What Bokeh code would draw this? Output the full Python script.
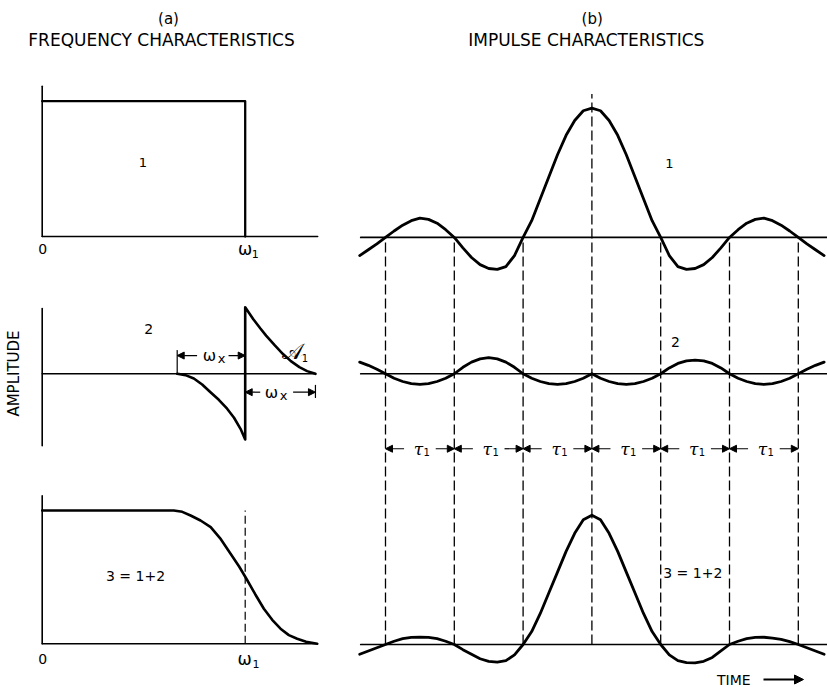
import numpy as np
from bokeh.plotting import figure
from bokeh.models import Range1d, Arrow, NormalHead
from bokeh.core.properties import value
from bokeh.embed import file_html
from bokeh.resources import INLINE

# ---------------- data ----------------
# (a) frequency characteristics: frequency in units of omega_1, amplitude relative to curve 1
a1_w = [0.0, 1.0, 1.0]
a1_amp = [1.0, 1.0, 0.0]

a2_w = [0.665, 0.706, 0.747, 0.788, 0.829, 0.870, 0.911, 0.945, 0.977, 1.0,
        1.0, 1.04, 1.075, 1.103, 1.145, 1.185, 1.225, 1.267, 1.305, 1.346]
a2_amp = [0.0, -0.01, -0.035, -0.08, -0.138, -0.195, -0.262, -0.33, -0.413, -0.493,
          0.5, 0.41, 0.34, 0.287, 0.215, 0.15, 0.095, 0.05, 0.02, 0.0]

a3_w = [0.0, 0.648, 0.69, 0.731, 0.78, 0.83, 0.88, 0.928, 0.97, 1.006,
        1.05, 1.092, 1.133, 1.174, 1.215, 1.256, 1.30, 1.355]
a3_amp = [1.0, 1.0, 0.99, 0.9625, 0.925, 0.875, 0.785, 0.675, 0.58, 0.488,
          0.37, 0.263, 0.18, 0.113, 0.065, 0.0375, 0.015, 0.0]

freq_axis_end = [1.357, 1.346, 1.355]
amp_axis_a1 = [0.0, 1.11]
amp_axis_a2 = [-0.54, 0.49]
amp_axis_a3 = [0.0, 1.11]
wx_start = 0.665   # 1 - omega_x
wx_end = 1.346     # 1 + omega_x

# (b) impulse characteristics: time in units of tau_1, amplitude relative to peak of curve 1
t_b = [k / 8 for k in range(-27, 28)]
b1 = [-0.14, -0.095, -0.05, 0.0, 0.05, 0.095, 0.13, 0.15, 0.14, 0.11, 0.06, 0.0,
      -0.08, -0.155, -0.21, -0.24, -0.247, -0.225, -0.14, 0.0,
      0.13, 0.30, 0.47, 0.64, 0.79, 0.905, 0.98, 1.0, 0.98, 0.905, 0.79, 0.64, 0.47, 0.30, 0.13,
      0.0, -0.14, -0.225, -0.247, -0.24, -0.21, -0.155, -0.08,
      0.0, 0.06, 0.11, 0.14, 0.15, 0.13, 0.095, 0.05, 0.0, -0.05, -0.095, -0.14]
b2 = [0.09, 0.065, 0.035, 0.0, -0.035, -0.06, -0.077, -0.083, -0.077, -0.06, -0.035, 0.0,
      0.05, 0.09, 0.115, 0.124, 0.115, 0.09, 0.05, 0.0,
      -0.035, -0.06, -0.077, -0.083, -0.077, -0.06, -0.035, 0.0,
      -0.035, -0.06, -0.077, -0.083, -0.077, -0.06, -0.035, 0.0,
      0.045, 0.08, 0.1, 0.105, 0.1, 0.08, 0.045, 0.0,
      -0.035, -0.06, -0.077, -0.083, -0.077, -0.06, -0.035, 0.0, 0.035, 0.065, 0.09]
b3 = [-0.075, -0.05, -0.025, 0.0, 0.025, 0.045, 0.055, 0.057, 0.055, 0.045, 0.025, 0.0,
      -0.04, -0.075, -0.11, -0.13, -0.137, -0.125, -0.08, 0.0,
      0.10, 0.24, 0.40, 0.56, 0.72, 0.86, 0.965, 1.0, 0.965, 0.86, 0.72, 0.56, 0.40, 0.24, 0.10,
      0.0, -0.08, -0.125, -0.14, -0.142, -0.13, -0.1, -0.05,
      0.0, 0.025, 0.045, 0.055, 0.056, 0.05, 0.04, 0.022, 0.0, -0.025, -0.05, -0.075]
tau_marks = [-3, -2, -1, 0, 1, 2, 3]
time_span = [-3.36, 3.5]

# ---------------- layout ----------------
W, H = 827, 687
LEFT, RIGHT, TOP, BOT = 0, W, 0, H


def xmap(pa, va, pb, vb):
    s = (pb - pa) / (vb - va)
    return Range1d(va + (LEFT - pa) / s, va + (RIGHT - pa) / s)


def ymap(pa, va, pb, vb):
    s = (pb - pa) / (vb - va)
    return Range1d(va + (BOT - pa) / s, va + (TOP - pa) / s)


p = figure(width=W, height=H, x_range=Range1d(LEFT, RIGHT), y_range=Range1d(-BOT, -TOP),
           output_backend="svg", toolbar_location=None, min_border=0,
           x_axis_location=None, y_axis_location=None)
p.outline_line_color = None
p.background_fill_color = "white"
p.border_fill_color = "white"
p.xgrid.visible = False
p.ygrid.visible = False

p.extra_x_ranges = {"w": xmap(41.7, 0, 244.7, 1), "t": xmap(591.4, 0, 660.2, 1)}
p.extra_y_ranges = {"a1": ymap(236, 0, 100.7, 1), "a2": ymap(373.3, 0, 306.7, 0.5),
                    "a3": ymap(643.3, 0, 510, 1), "b": ymap(644, 0, 514.7, 1)}
OFF = [3.148, 2.094, 0.0]   # vertical placement of the three impulse traces
Y_TAU = 1.514


def line(xs, ys, xr, yr, w=2.0, dash="solid", cap="round"):
    p.line(xs, ys, x_range_name=xr, y_range_name=yr, line_color="black",
           line_width=w, line_dash=dash, line_join="round", line_cap=cap)


def txt(x, y, s, size, xr="default", yr="default", font="DejaVu Sans", style="normal",
        align="center", angle=0.0):
    p.text(x=[x], y=[y], text=[s], x_range_name=xr, y_range_name=yr,
           text_font=value(font), text_font_size=value(f"{size}px"),
           text_font_style=style, text_align=align, text_baseline="middle",
           text_color="black", angle=angle)


def arrow(x0, y0, x1, y1, xr="default", yr="default", size=7, w=1.2):
    p.add_layout(Arrow(end=NormalHead(size=size, fill_color="black", line_color="black", line_width=1),
                       x_start=x0, y_start=y0, x_end=x1, y_end=y1,
                       x_range_name=xr, y_range_name=yr, line_width=w, line_color="black"))


# ---- (a) panel 1
line([0, 0], amp_axis_a1, "w", "a1", 1.6)
line([0, freq_axis_end[0]], [0, 0], "w", "a1", 1.6)
line(a1_w, a1_amp, "w", "a1", 2.3)

# ---- (a) panel 2
line([0, 0], amp_axis_a2, "w", "a2", 1.6)
line([0, freq_axis_end[1]], [0, 0], "w", "a2", 1.6)
line(a2_w, a2_amp, "w", "a2", 2.6)
line([wx_start, wx_start], [0, 0.175], "w", "a2", 1.2)
line([wx_end, wx_end], [-0.0875, -0.177], "w", "a2", 1.2)
arrow(wx_start + 0.098, 0.137, wx_start, 0.137, "w", "a2")
arrow(1.0 - 0.082, 0.137, 1.0, 0.137, "w", "a2")
arrow(1.0 + 0.074, -0.138, 1.0, -0.138, "w", "a2")
arrow(wx_end - 0.11, -0.138, wx_end, -0.138, "w", "a2")

# ---- (a) panel 3
line([0, 0], amp_axis_a3, "w", "a3", 1.6)
line([0, freq_axis_end[2]], [0, 0], "w", "a3", 1.6)
line([1.0, 1.0], [0, 1.0], "w", "a3", 1.2, dash="8 4", cap="butt")
line(a3_w, a3_amp, "w", "a3", 2.6)

# ---- (b)
for t in tau_marks:
    top = OFF[0] + (1.11 if t == 0 else 0.0)
    line([t, t], [0, top], "t", "b", 1.3, dash="10 4", cap="butt")
for tr, off in zip([b1, b2, b3], OFF):
    line(time_span, [off, off], "t", "b", 1.7)
    line(t_b, (np.array(tr) + off).tolist(), "t", "b", 2.8)
for a, b in zip(tau_marks[:-1], tau_marks[1:]):
    mid = (a + b) / 2
    arrow(a + 0.27, Y_TAU, a, Y_TAU, "t", "b")
    arrow(b - 0.27, Y_TAU, b, Y_TAU, "t", "b")
    txt(mid - 0.02, Y_TAU, "τ", 17, "t", "b", font="DejaVu Serif", style="italic")
    txt(mid + 0.1, Y_TAU - 0.025, "1", 10, "t", "b")

# ---- texts (image coordinates)
txt(168, -18, "(a)", 15)
txt(161, -39, "FREQUENCY CHARACTERISTICS", 17)
txt(591.7, -18, "(b)", 15)
txt(585.8, -39, "IMPULSE CHARACTERISTICS", 17)

txt(42.3, -248.5, "0", 14)
txt(244.7, -248.5, "ω", 17)
txt(254.7, -253, "1", 11)
txt(142.3, -162, "1", 13)

txt(148.3, -328.3, "2", 14)
txt(13.3, -373, "AMPLITUDE", 15, angle=np.pi / 2)
txt(209, -355, "ω", 16)
txt(221, -358, "x", 13)
txt(271, -391.7, "ω", 16)
txt(283, -394.5, "x", 13)
txt(291.7, -351, "𝒜", 22, font="DejaVu Serif")
txt(304.5, -357, "1", 10)

txt(135, -575, "3 = 1+2", 14)
txt(42.3, -658.3, "0", 14)
txt(244, -658.3, "ω", 17)
txt(255.5, -663, "1", 11)

txt(669, -163.3, "1", 13)
txt(675, -341.7, "2", 14)
txt(692.3, -572.7, "3 = 1+2", 14)

txt(733.3, -679, "TIME", 14)
arrow(763, -679, 803, -679, size=9, w=2.2)

open("out.html", "w").write(file_html(p, INLINE))
